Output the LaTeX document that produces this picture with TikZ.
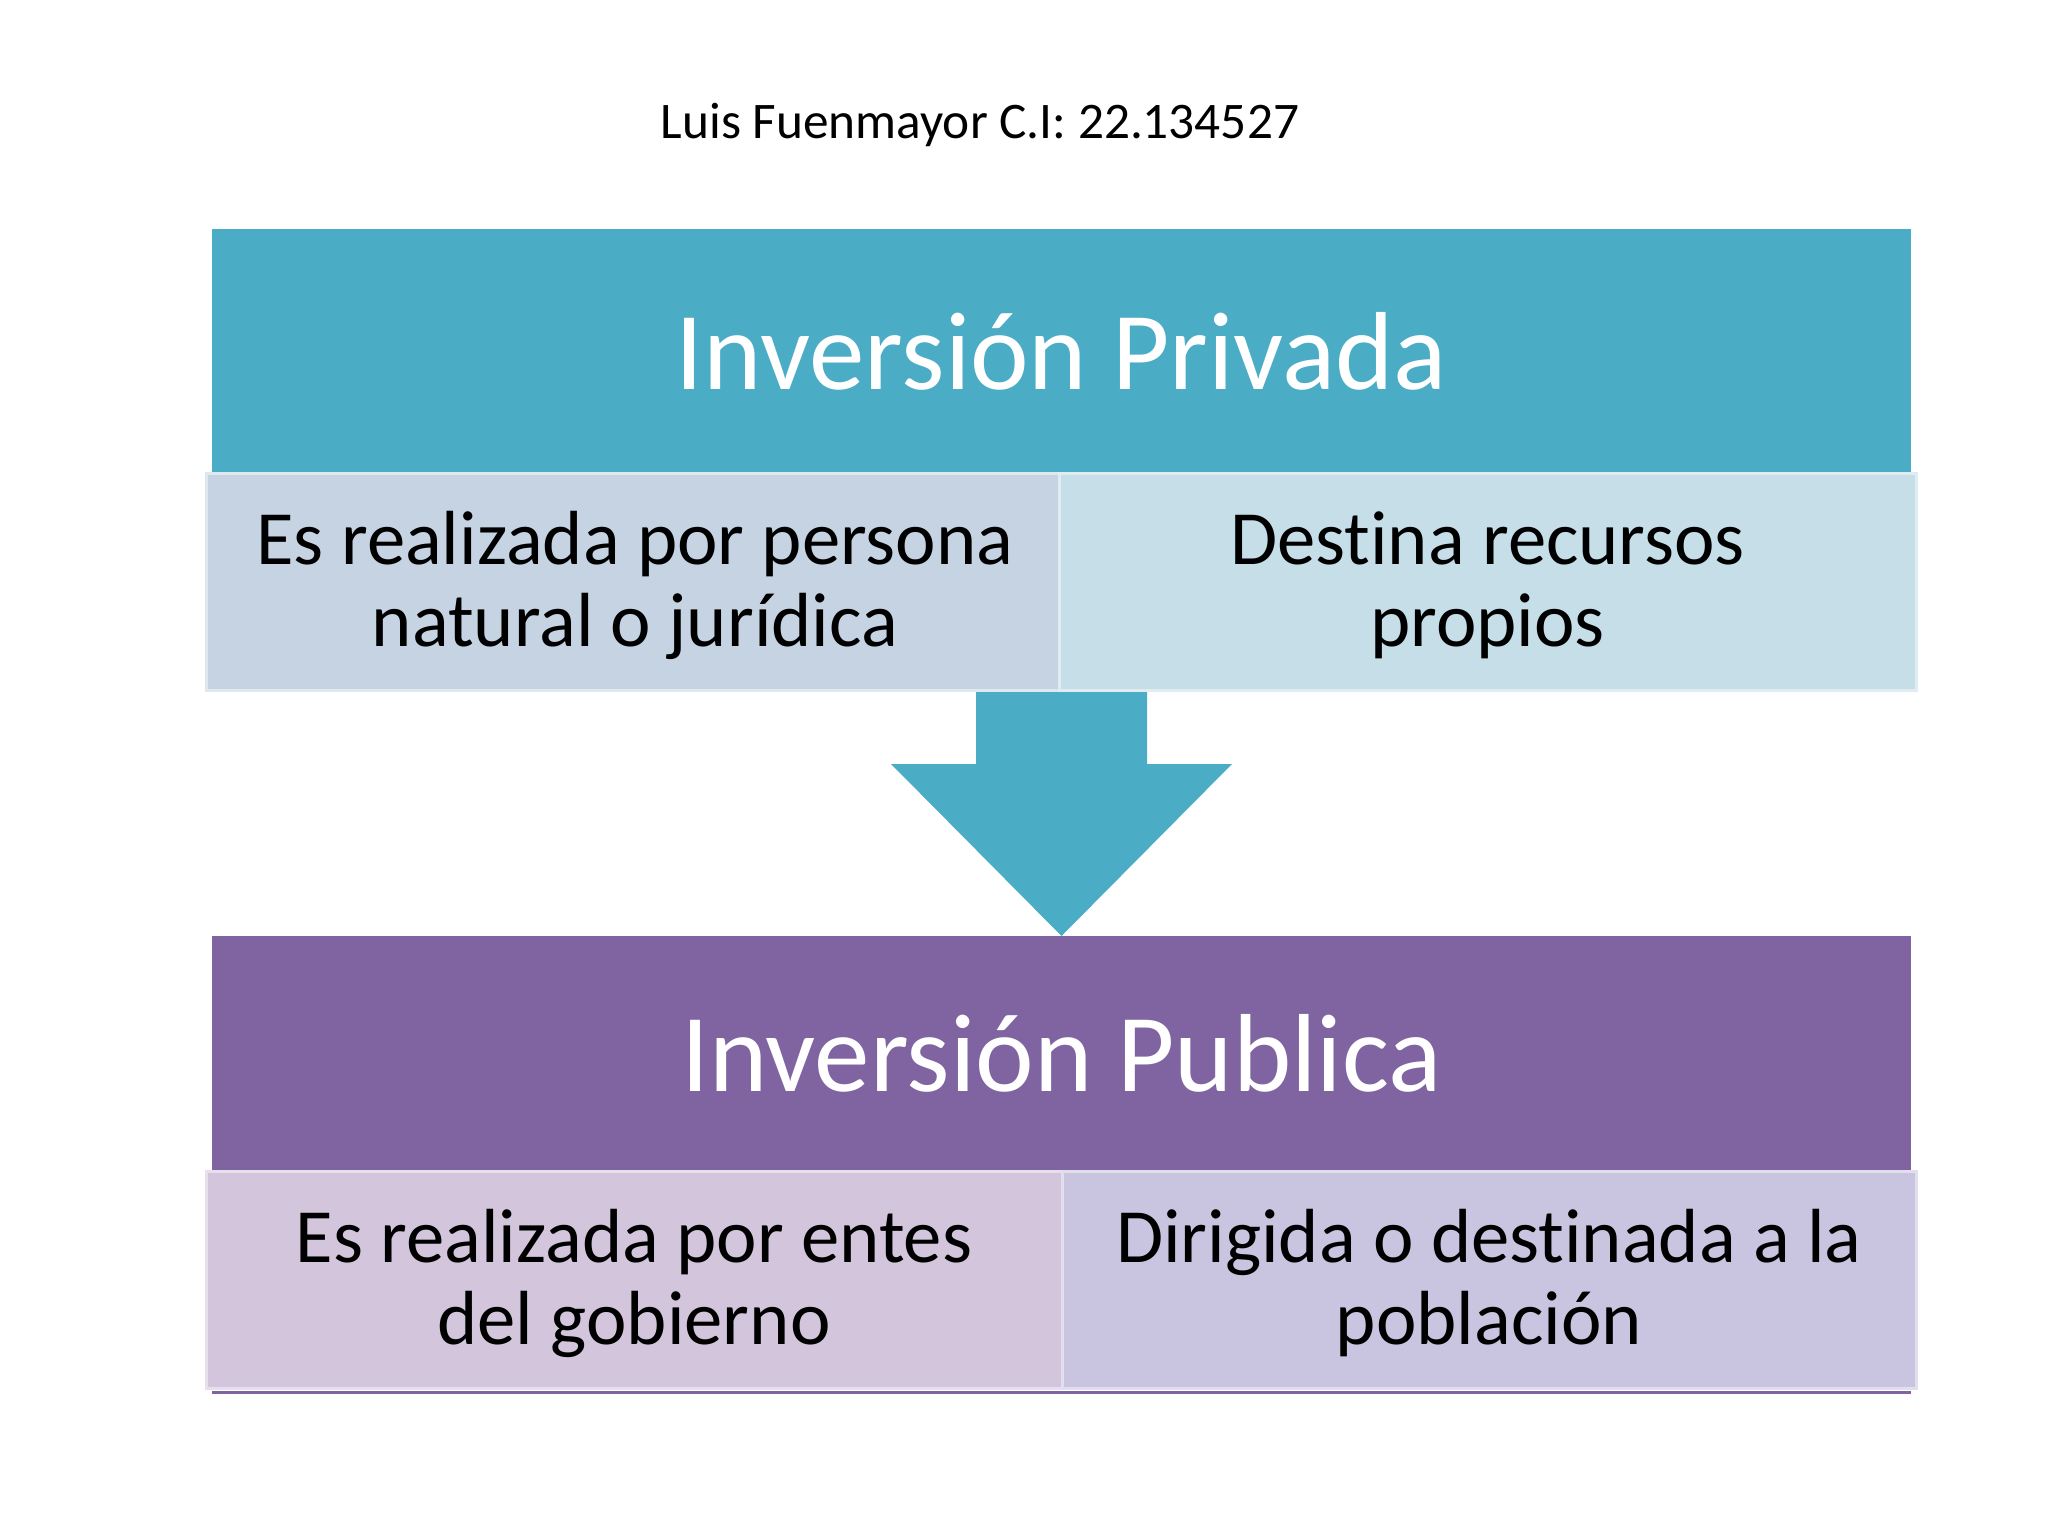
\documentclass[tikz,border=0pt]{standalone}
\usepackage{fontspec}
\setmainfont{Carlito}[Ligatures=NoCommon]
\definecolor{aqua}{HTML}{4BACC6}
\definecolor{purp}{HTML}{8064A2}
\definecolor{aqL}{HTML}{C5D3E3}
\definecolor{aqR}{HTML}{C5DEE8}
\definecolor{puL}{HTML}{D3C6DC}
\definecolor{puR}{HTML}{C9C4DF}
\begin{document}
\begin{tikzpicture}[x=1pt,y=-1pt,
  hdr/.style={inner sep=0pt, minimum width=1699pt, text=white,
    font=\fontsize{111}{120}\selectfont},
  sub/.style={inner sep=0pt, align=center, minimum height=217pt,
    line width=3pt, font=\fontsize{76.7}{82}\selectfont},
  subtext/.style={inner sep=0pt, align=center, font=\fontsize{76.7}{82}\selectfont},
  ttl/.style={inner sep=0pt, font=\fontsize{51.3}{60}\selectfont}]
\useasboundingbox[fill=white] (0,0) rectangle (2048,1536);
% title
\node[ttl] (title) at (980,125) {Luis Fuenmayor C.I: 22.134527};
% upper block
\node[hdr, fill=aqua, minimum height=244pt] (hdrA) at (1061.5,351) {Inversión Privada};
\node[sub, fill=aqL, draw=aqL!55!white, minimum width=853pt] (a1) at (632.5,581.5) {};
\node[subtext] (a1t) at (635,585.5) {Es realizada por persona\\natural o jurídica};
\node[sub, fill=aqR, draw=aqR!55!white, minimum width=857pt] (a2) at (1487.5,581.5) {};
\node[subtext] (a2t) at (1487.5,585.5) {Destina recursos\\propios};
% arrow
\fill[aqua] (976,692) -- (1147,692) -- (1147,764) -- (1232,764) -- (1061.5,936)
  -- (891,764) -- (976,764) -- cycle;
% lower block
\node[hdr, fill=purp, minimum height=235pt] (hdrB) at (1061.5,1053.5) {Inversión Publica};
\draw[purp, line width=3pt] (212,1392) -- (1911,1392);
\node[sub, fill=puL, draw=puL!55!white, minimum width=856pt] (b1) at (634,1279.5) {};
\node[subtext] (b1t) at (634,1283.5) {Es realizada por entes\\del gobierno};
\node[sub, fill=puR, draw=puR!55!white, minimum width=854pt] (b2) at (1489,1279.5) {};
\node[subtext] (b2t) at (1489,1283.5) {Dirigida o destinada a la\\población};
\end{tikzpicture}
\end{document}
